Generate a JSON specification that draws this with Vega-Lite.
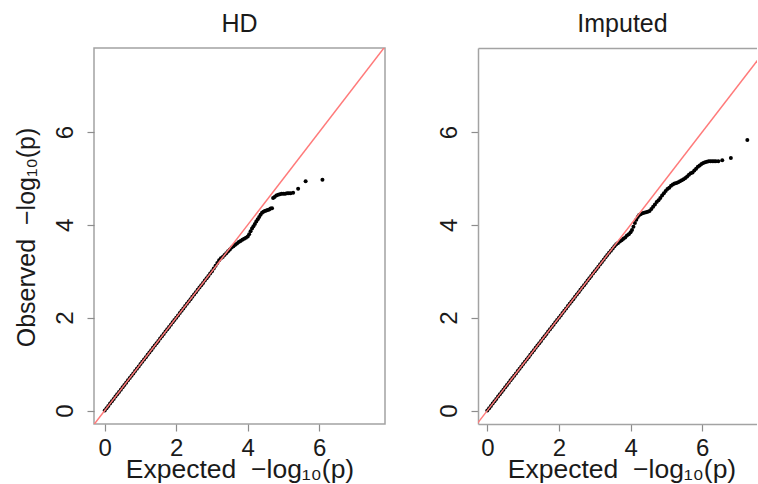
{
  "$schema": "https://vega.github.io/schema/vega-lite/v6.json",
  "padding": {"left": 13, "top": 11, "right": 0, "bottom": 0},
  "spacing": 51,
  "config": {
    "font": "Liberation Sans",
    "view": {"stroke": "#a3a3a3", "strokeWidth": 1.5},
    "axis": {"grid": false, "domain": false, "tickColor": "#8c8c8c", "tickSize": 7, "tickWidth": 1.2, "labelFontSize": 24, "labelColor": "#1a1a1a", "titleFontSize": 25, "titleFontWeight": "normal", "titleColor": "#1a1a1a"},
    "axisX": {"titleFontSize": 26.5},
    "title": {"fontSize": 25, "fontWeight": "normal", "color": "#1a1a1a", "baseline": "alphabetic", "offset": 11, "frame": "group", "anchor": "middle"}
  },
  "datasets": {
    "ref": [{"from": -0.31, "to": 7.84}],
    "hd": [
      {"expected":0,"observed":0},{"expected":0.05,"observed":0.05},{"expected":0.1,"observed":0.1},{"expected":0.15,"observed":0.15},{"expected":0.2,"observed":0.2},{"expected":0.25,"observed":0.25},{"expected":0.3,"observed":0.3},{"expected":0.35,"observed":0.35},{"expected":0.4,"observed":0.4},{"expected":0.45,"observed":0.45},{"expected":0.5,"observed":0.5},{"expected":0.55,"observed":0.55},{"expected":0.6,"observed":0.6},{"expected":0.65,"observed":0.65},{"expected":0.7,"observed":0.7},{"expected":0.75,"observed":0.75},{"expected":0.8,"observed":0.8},{"expected":0.85,"observed":0.85},{"expected":0.9,"observed":0.9},{"expected":0.95,"observed":0.95},{"expected":1,"observed":1},{"expected":1.05,"observed":1.05},{"expected":1.1,"observed":1.1},{"expected":1.15,"observed":1.15},{"expected":1.2,"observed":1.2},{"expected":1.25,"observed":1.25},{"expected":1.3,"observed":1.3},{"expected":1.35,"observed":1.35},{"expected":1.4,"observed":1.4},{"expected":1.45,"observed":1.45},{"expected":1.5,"observed":1.5},{"expected":1.55,"observed":1.55},{"expected":1.6,"observed":1.6},{"expected":1.65,"observed":1.65},{"expected":1.7,"observed":1.7},{"expected":1.75,"observed":1.75},{"expected":1.8,"observed":1.8},{"expected":1.85,"observed":1.85},{"expected":1.9,"observed":1.9},{"expected":1.95,"observed":1.95},{"expected":2,"observed":2},{"expected":2.05,"observed":2.05},{"expected":2.1,"observed":2.1},{"expected":2.15,"observed":2.15},{"expected":2.2,"observed":2.2},{"expected":2.25,"observed":2.25},{"expected":2.3,"observed":2.3},{"expected":2.35,"observed":2.35},{"expected":2.4,"observed":2.4},{"expected":2.45,"observed":2.45},{"expected":2.5,"observed":2.5},{"expected":2.55,"observed":2.55},{"expected":2.6,"observed":2.6},{"expected":2.65,"observed":2.65},{"expected":2.7,"observed":2.7},{"expected":2.75,"observed":2.75},{"expected":2.8,"observed":2.8},{"expected":2.85,"observed":2.85},{"expected":2.9,"observed":2.9},{"expected":2.95,"observed":2.95},{"expected":3,"observed":3},{"expected":3.05,"observed":3.06},{"expected":3.1,"observed":3.12},{"expected":3.15,"observed":3.18},
      {"expected":3.2,"observed":3.24},{"expected":3.25,"observed":3.28},{"expected":3.3,"observed":3.31},{"expected":3.35,"observed":3.35},{"expected":3.4,"observed":3.39},{"expected":3.45,"observed":3.43},{"expected":3.5,"observed":3.47},{"expected":3.55,"observed":3.51},{"expected":3.6,"observed":3.54},{"expected":3.65,"observed":3.57},{"expected":3.7,"observed":3.6},{"expected":3.75,"observed":3.63},{"expected":3.8,"observed":3.65},{"expected":3.85,"observed":3.68},{"expected":3.9,"observed":3.7},{"expected":3.95,"observed":3.72},{"expected":4,"observed":3.75},{"expected":4.04,"observed":3.8},{"expected":4.08,"observed":3.86},{"expected":4.12,"observed":3.92},{"expected":4.16,"observed":3.97},{"expected":4.2,"observed":4.02},{"expected":4.24,"observed":4.07},{"expected":4.28,"observed":4.12},{"expected":4.32,"observed":4.17},{"expected":4.36,"observed":4.22},{"expected":4.4,"observed":4.26},{"expected":4.44,"observed":4.28},{"expected":4.48,"observed":4.3},{"expected":4.52,"observed":4.31},{"expected":4.56,"observed":4.32},{"expected":4.6,"observed":4.33},{"expected":4.64,"observed":4.35},{"expected":4.68,"observed":4.36},
      {"expected":4.71,"observed":4.58},{"expected":4.75,"observed":4.6},{"expected":4.8,"observed":4.63},{"expected":4.85,"observed":4.65},{"expected":4.9,"observed":4.66},{"expected":4.95,"observed":4.67},{"expected":5,"observed":4.67},{"expected":5.05,"observed":4.67},{"expected":5.1,"observed":4.68},{"expected":5.15,"observed":4.68},{"expected":5.2,"observed":4.68},{"expected":5.27,"observed":4.69},{"expected":5.41,"observed":4.78},{"expected":5.62,"observed":4.94},{"expected":6.09,"observed":4.97}
    ],
    "imp": [
      {"expected":0,"observed":0},{"expected":0.05,"observed":0.05},{"expected":0.1,"observed":0.1},{"expected":0.15,"observed":0.15},{"expected":0.2,"observed":0.2},{"expected":0.25,"observed":0.25},{"expected":0.3,"observed":0.3},{"expected":0.35,"observed":0.35},{"expected":0.4,"observed":0.4},{"expected":0.45,"observed":0.45},{"expected":0.5,"observed":0.5},{"expected":0.55,"observed":0.55},{"expected":0.6,"observed":0.6},{"expected":0.65,"observed":0.65},{"expected":0.7,"observed":0.7},{"expected":0.75,"observed":0.75},{"expected":0.8,"observed":0.8},{"expected":0.85,"observed":0.85},{"expected":0.9,"observed":0.9},{"expected":0.95,"observed":0.95},{"expected":1,"observed":1},{"expected":1.05,"observed":1.05},{"expected":1.1,"observed":1.1},{"expected":1.15,"observed":1.15},{"expected":1.2,"observed":1.2},{"expected":1.25,"observed":1.25},{"expected":1.3,"observed":1.3},{"expected":1.35,"observed":1.35},{"expected":1.4,"observed":1.4},{"expected":1.45,"observed":1.45},{"expected":1.5,"observed":1.5},{"expected":1.55,"observed":1.55},{"expected":1.6,"observed":1.6},{"expected":1.65,"observed":1.65},{"expected":1.7,"observed":1.7},{"expected":1.75,"observed":1.75},{"expected":1.8,"observed":1.8},{"expected":1.85,"observed":1.85},{"expected":1.9,"observed":1.9},{"expected":1.95,"observed":1.95},{"expected":2,"observed":2},{"expected":2.05,"observed":2.05},{"expected":2.1,"observed":2.1},{"expected":2.15,"observed":2.15},{"expected":2.2,"observed":2.2},{"expected":2.25,"observed":2.25},{"expected":2.3,"observed":2.3},{"expected":2.35,"observed":2.35},{"expected":2.4,"observed":2.4},{"expected":2.45,"observed":2.45},{"expected":2.5,"observed":2.5},{"expected":2.55,"observed":2.55},{"expected":2.6,"observed":2.6},{"expected":2.65,"observed":2.65},{"expected":2.7,"observed":2.7},{"expected":2.75,"observed":2.75},{"expected":2.8,"observed":2.8},{"expected":2.85,"observed":2.85},{"expected":2.9,"observed":2.9},{"expected":2.95,"observed":2.95},{"expected":3,"observed":3},{"expected":3.05,"observed":3.05},{"expected":3.1,"observed":3.1},{"expected":3.15,"observed":3.15},{"expected":3.2,"observed":3.2},{"expected":3.25,"observed":3.25},{"expected":3.3,"observed":3.3},{"expected":3.35,"observed":3.35},{"expected":3.4,"observed":3.4},{"expected":3.45,"observed":3.44},{"expected":3.5,"observed":3.49},
      {"expected":3.55,"observed":3.54},{"expected":3.6,"observed":3.58},{"expected":3.65,"observed":3.61},{"expected":3.7,"observed":3.64},{"expected":3.75,"observed":3.67},{"expected":3.8,"observed":3.7},{"expected":3.85,"observed":3.73},{"expected":3.9,"observed":3.77},{"expected":3.95,"observed":3.8},{"expected":4,"observed":3.84},{"expected":4.04,"observed":3.89},{"expected":4.08,"observed":3.96},{"expected":4.12,"observed":4.04},{"expected":4.16,"observed":4.11},{"expected":4.2,"observed":4.17},{"expected":4.24,"observed":4.21},{"expected":4.28,"observed":4.23},{"expected":4.33,"observed":4.25},{"expected":4.38,"observed":4.26},{"expected":4.43,"observed":4.27},{"expected":4.48,"observed":4.28},{"expected":4.53,"observed":4.3},{"expected":4.58,"observed":4.34},{"expected":4.63,"observed":4.39},{"expected":4.68,"observed":4.44},{"expected":4.73,"observed":4.49},{"expected":4.78,"observed":4.53},{"expected":4.83,"observed":4.58},{"expected":4.88,"observed":4.63},{"expected":4.93,"observed":4.68},{"expected":4.98,"observed":4.73},{"expected":5.03,"observed":4.77},{"expected":5.08,"observed":4.8},{"expected":5.13,"observed":4.84},{"expected":5.18,"observed":4.87},{"expected":5.23,"observed":4.89},{"expected":5.28,"observed":4.9},{"expected":5.33,"observed":4.92},{"expected":5.38,"observed":4.94},{"expected":5.43,"observed":4.96},{"expected":5.48,"observed":4.98},{"expected":5.53,"observed":5.01},{"expected":5.58,"observed":5.04},{"expected":5.63,"observed":5.08},{"expected":5.68,"observed":5.11},{"expected":5.73,"observed":5.13},{"expected":5.78,"observed":5.17},{"expected":5.83,"observed":5.21},{"expected":5.88,"observed":5.25},{"expected":5.93,"observed":5.28},{"expected":5.98,"observed":5.31},{"expected":6.03,"observed":5.33},{"expected":6.08,"observed":5.35},{"expected":6.13,"observed":5.36},{"expected":6.18,"observed":5.37},{"expected":6.23,"observed":5.37},{"expected":6.28,"observed":5.37},{"expected":6.33,"observed":5.37},{"expected":6.38,"observed":5.37},{"expected":6.45,"observed":5.37},{"expected":6.56,"observed":5.39},{"expected":6.8,"observed":5.44},{"expected":7.26,"observed":5.83}
    ]
  },
  "hconcat": [
    {
      "width": 291,
      "height": 376,
      "title": {"text": "HD"},
      "layer": [
        {
          "data": {"name": "hd"},
          "mark": {"type": "circle", "size": 16, "color": "black", "opacity": 1},
          "encoding": {
            "x": {"field": "expected", "type": "quantitative", "scale": {"domain": [-0.3, 7.84], "nice": false, "zero": false},
                  "axis": {"title": "Expected\u00a0 −log₁₀(p)", "values": [0, 2, 4, 6], "labelAngle": 0, "labelBaseline": "alphabetic", "labelPadding": 24.5, "titleBaseline": "alphabetic", "titleX": 145.5, "titleY": 53, "titleAlign": "center"}},
            "y": {"field": "observed", "type": "quantitative", "scale": {"domain": [-0.29, 7.81], "nice": false, "zero": false},
                  "axis": {"title": "Observed\u00a0 −log₁₀(p)", "values": [0, 2, 4, 6], "labelAngle": 270, "labelAlign": "center", "labelBaseline": "alphabetic", "labelPadding": 14.3, "titleAngle": 270, "titleAlign": "center", "titleBaseline": "alphabetic", "titleX": -59.3, "titleY": 189}}
          }
        },
        {
          "data": {"name": "ref"},
          "mark": {"type": "rule", "color": "#ff7a7a", "strokeWidth": 1.5, "clip": true},
          "encoding": {
            "x": {"field": "from", "type": "quantitative",
                  "axis": {"title": "Expected\u00a0 −log₁₀(p)", "values": [0, 2, 4, 6], "labelAngle": 0, "labelBaseline": "alphabetic", "labelPadding": 24.5, "titleBaseline": "alphabetic", "titleX": 145.5, "titleY": 53, "titleAlign": "center"}},
            "y": {"field": "from", "type": "quantitative",
                  "axis": {"title": "Observed\u00a0 −log₁₀(p)", "values": [0, 2, 4, 6], "labelAngle": 270, "labelAlign": "center", "labelBaseline": "alphabetic", "labelPadding": 14.3, "titleAngle": 270, "titleAlign": "center", "titleBaseline": "alphabetic", "titleX": -59.3, "titleY": 189}},
            "x2": {"field": "to"},
            "y2": {"field": "to"}
          }
        }
      ]
    },
    {
      "width": 279,
      "height": 376,
      "title": {"text": "Imputed", "dx": 5},
      "view": {"stroke": null},
      "resolve": {"axis": {"x": "independent"}},
      "layer": [
        {
          "data": {"name": "imp"},
          "mark": {"type": "circle", "size": 16, "color": "black", "opacity": 1},
          "encoding": {
            "x": {"field": "expected", "type": "quantitative", "scale": {"domain": [-0.26, 7.53], "nice": false, "zero": false},
                  "axis": {"title": "Expected\u00a0 −log₁₀(p)", "values": [0, 2, 4, 6], "domain": true, "domainColor": "#a3a3a3", "domainWidth": 1.5, "labelAngle": 0, "labelBaseline": "alphabetic", "labelPadding": 24.5, "titleBaseline": "alphabetic", "titleX": 143.5, "titleY": 53, "titleAlign": "center"}},
            "y": {"field": "observed", "type": "quantitative", "scale": {"domain": [-0.29, 7.81], "nice": false, "zero": false},
                  "axis": {"title": null, "values": [0, 2, 4, 6], "domain": true, "domainColor": "#a3a3a3", "domainWidth": 1.5, "labelAngle": 270, "labelAlign": "center", "labelBaseline": "alphabetic", "labelPadding": 14.3}}
          }
        },
        {
          "data": {"name": "ref"},
          "mark": {"type": "rule", "color": "#ff7a7a", "strokeWidth": 1.5, "clip": true},
          "encoding": {
            "x": {"field": "from", "type": "quantitative", "axis": {"orient": "top", "title": null, "labels": false, "ticks": false, "domain": true, "domainColor": "#a3a3a3", "domainWidth": 1.5}},
            "y": {"field": "from", "type": "quantitative",
                  "axis": {"title": null, "values": [0, 2, 4, 6], "domain": true, "domainColor": "#a3a3a3", "domainWidth": 1.5, "labelAngle": 270, "labelAlign": "center", "labelBaseline": "alphabetic", "labelPadding": 14.3}},
            "x2": {"field": "to"},
            "y2": {"field": "to"}
          }
        }
      ]
    }
  ]
}
